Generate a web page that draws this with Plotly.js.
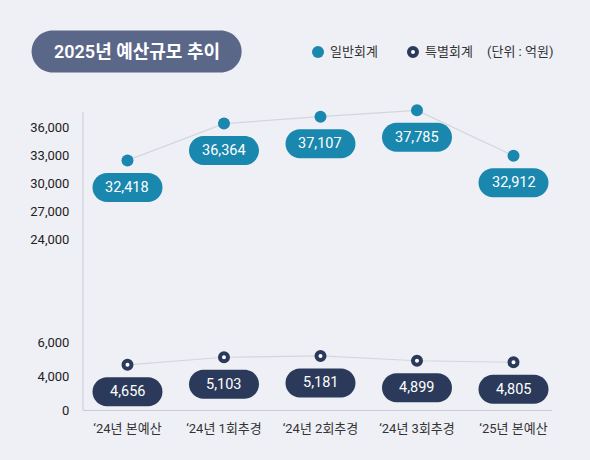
<!DOCTYPE html>
<html>
<head>
<meta charset="utf-8">
<script src="https://cdn.plot.ly/plotly-3.0.1.min.js"></script>
<style>
  html, body { margin: 0; padding: 0; background: #eff0f6; }
  #chart { width: 590px; height: 460px; }
</style>
</head>
<body>
<div id="chart"></div>
<script>
// data (억원)
var periods = ["\u201824년 본예산", "\u201824년 1회추경", "\u201824년 2회추경", "\u201824년 3회추경", "\u201825년 본예산"];
var general = [32418, 36364, 37107, 37785, 32912];
var special = [4656, 5103, 5181, 4899, 4805];
var generalTicks = [24000, 27000, 30000, 33000, 36000];
var specialTicks = [2000, 4000, 6000];
var specialTickText = ["0", "4,000", "6,000"];
var seriesNames = ["일반회계", "특별회계"];

var FONT = "Roboto, 'Noto Sans CJK KR', sans-serif";
var TEAL = "#1a87ae";
var NAVY = "#2b3a5a";

function fmt(v) {
    return v.toLocaleString("en-US");
}

// rounded pill path, pixel units relative to the anchor, y up
function pill(w, h, cy) {
    var k = 0.5523 * h;
    var l = -w + h, r = w - h, t = cy + h, b = cy - h;
    return "M" + l + "," + t + " L" + r + "," + t +
        " C" + (r + k) + "," + t + " " + w + "," + (cy + k) + " " + w + "," + cy +
        " C" + w + "," + (cy - k) + " " + (r + k) + "," + b + " " + r + "," + b +
        " L" + l + "," + b +
        " C" + (l - k) + "," + b + " " + (-w) + "," + (cy - k) + " " + (-w) + "," + cy +
        " C" + (-w) + "," + (cy + k) + " " + (l - k) + "," + t + " " + l + "," + t + " Z";
}

var shapes = [];
var annotations = [];

function addLabels(values, yref, color, halfW) {
    for (var i = 0; i < values.length; i++) {
        shapes.push({
            type: "path", xref: "x", yref: yref,
            xsizemode: "pixel", ysizemode: "pixel",
            xanchor: periods[i], yanchor: values[i],
            path: pill(halfW, 14.5, -27),
            fillcolor: color, line: {width: 0}, layer: "above"
        });
        annotations.push({
            x: periods[i], y: values[i], xref: "x", yref: yref,
            yshift: -27, showarrow: false, text: fmt(values[i]),
            font: {family: FONT, size: 14.5, color: "#ffffff"}
        });
    }
}
addLabels(general, "y2", TEAL, 35);
addLabels(special, "y", NAVY, 35);

// vertical axis line across both panels
shapes.push({
    type: "line", xref: "paper", yref: "paper",
    x0: 0, x1: 0, y0: 0, y1: 0.9613,
    line: {color: "#c9ccd6", width: 1}
});

// title pill
var headY = 1.1565;
shapes.push({
    type: "path", xref: "paper", yref: "paper",
    xsizemode: "pixel", ysizemode: "pixel",
    xanchor: 0.1143, yanchor: headY,
    path: pill(105, 21, 0),
    fillcolor: "#5b6789", line: {width: 0}
});
annotations.push({
    x: 0.1143, y: headY, xref: "paper", yref: "paper", showarrow: false,
    xanchor: "center", yanchor: "middle",
    text: "2025년 예산규모 추이",
    font: {family: FONT, size: 18, color: "#ffffff", weight: 600}
});

// legend row
var legY = 1.155;
shapes.push({
    type: "circle", xref: "paper", yref: "paper",
    xsizemode: "pixel", ysizemode: "pixel",
    xanchor: 0.5011, yanchor: legY,
    x0: -6, x1: 6, y0: -6, y1: 6,
    fillcolor: TEAL, line: {width: 0}
});
shapes.push({
    type: "circle", xref: "paper", yref: "paper",
    xsizemode: "pixel", ysizemode: "pixel",
    xanchor: 0.7036, yanchor: legY,
    x0: -4, x1: 4, y0: -4, y1: 4,
    fillcolor: "#ffffff", line: {color: NAVY, width: 4}
});
annotations.push({
    x: 0.5224, y: legY, xref: "paper", yref: "paper", showarrow: false,
    xanchor: "left", yanchor: "middle", text: seriesNames[0],
    font: {family: FONT, size: 13, color: "#333333"}
});
annotations.push({
    x: 0.7249, y: legY, xref: "paper", yref: "paper", showarrow: false,
    xanchor: "left", yanchor: "middle", text: seriesNames[1],
    font: {family: FONT, size: 13, color: "#333333"}
});
annotations.push({
    x: 1.006, y: legY, xref: "paper", yref: "paper", showarrow: false,
    xanchor: "right", yanchor: "middle",
    text: "(단위 : 억원)",
    font: {family: FONT, size: 13, color: "#333333"}
});

var data = [
    {
        x: periods, y: general, yaxis: "y2", type: "scatter", mode: "lines",
        line: {color: "#d3d6df", width: 1.2}, showlegend: false, hoverinfo: "skip"
    },
    {
        x: periods, y: special, yaxis: "y", type: "scatter", mode: "lines",
        line: {color: "#d3d6df", width: 1.2}, showlegend: false, hoverinfo: "skip"
    },
    {
        x: periods, y: general, yaxis: "y2", type: "scatter", mode: "markers",
        name: seriesNames[0], cliponaxis: false, showlegend: false,
        marker: {color: TEAL, size: 12}
    },
    {
        x: periods, y: special, yaxis: "y", type: "scatter", mode: "markers",
        name: seriesNames[1], cliponaxis: false, showlegend: false,
        marker: {color: "#ffffff", size: 8, line: {color: NAVY, width: 4}}
    }
];

var layout = {
    width: 590,
    height: 460,
    paper_bgcolor: "#eff0f6",
    plot_bgcolor: "#eff0f6",
    font: {family: FONT, size: 13, color: "#333333"},
    margin: {l: 83, r: 38, t: 100, b: 50, pad: 0},
    showlegend: false,
    xaxis: {
        type: "category",
        range: [-0.461, 4.399],
        showgrid: false, zeroline: false,
        showline: true, linecolor: "#c9ccd6", linewidth: 1,
        ticks: "outside", ticklen: 6, tickcolor: "rgba(0,0,0,0)",
        tickfont: {family: FONT, size: 13, color: "#333333"},
        fixedrange: true,
        anchor: "y"
    },
    yaxis: {
        domain: [0, 0.258],
        range: [2000, 6706],
        tickvals: specialTicks, ticktext: specialTickText,
        showgrid: false, zeroline: false, showline: false,
        ticks: "outside", ticklen: 10, tickcolor: "rgba(0,0,0,0)",
        tickfont: {family: FONT, size: 13, color: "#222222"},
        fixedrange: true
    },
    yaxis2: {
        domain: [0.5161, 1],
        range: [22821, 38893],
        tickvals: generalTicks,
        tickformat: ",d",
        showgrid: false, zeroline: false, showline: false,
        ticks: "outside", ticklen: 10, tickcolor: "rgba(0,0,0,0)",
        tickfont: {family: FONT, size: 13, color: "#222222"},
        anchor: "x",
        fixedrange: true
    },
    shapes: shapes,
    annotations: annotations
};

Plotly.newPlot("chart", data, layout, {displayModeBar: false, responsive: false});
</script>
</body>
</html>
